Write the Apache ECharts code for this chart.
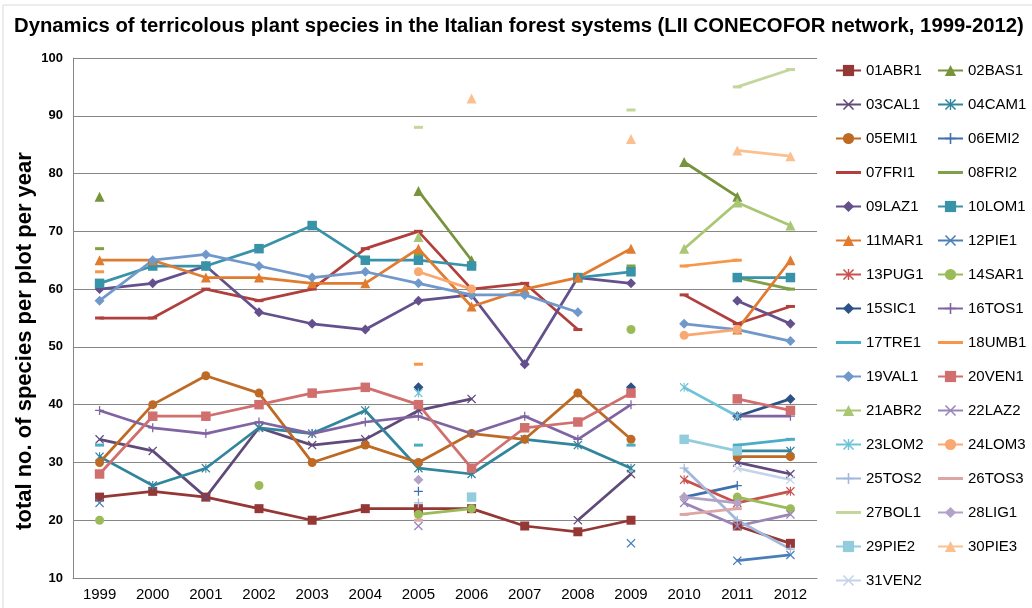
<!DOCTYPE html>
<html>
<head>
<meta charset="utf-8">
<script src="https://cdn.jsdelivr.net/npm/echarts@6/dist/echarts.min.js"></script>
<style>
html,body{margin:0;padding:0;background:#fff;}
#chart{width:1032px;height:608px;}
</style>
</head>
<body>
<div id="chart"></div>
<script>
// ---------- DATA ----------
const years = ['1999','2000','2001','2002','2003','2004','2005','2006','2007','2008','2009','2010','2011','2012'];
const yTicks = [10,20,30,40,50,60,70,80,90,100];
const _ = null;
const s01ABR1 = [24,25,24,22,20,22,22,22,19,18,20,_,19,16];
const s02BAS1 = [76,_,_,_,_,_,77,65,_,_,_,82,76,_];
const s03CAL1 = [34,32,24,36,33,34,39,41,_,20,28,_,30,28];
const s04CAM1 = [31,26,29,36,35,39,29,28,34,33,29,_,32,32];
const s05EMI1 = [30,40,45,42,30,33,30,35,34,42,34,_,31,31];
const s06EMI2 = [_,_,_,_,_,_,25,_,_,_,_,24,26,_];
const s07FRI1 = [55,55,60,58,60,67,70,60,61,53,_,59,54,57];
const s08FRI2 = [67,_,_,_,_,_,66,_,_,_,64,_,62,60];
const s09LAZ1 = [60,61,64,56,54,53,58,59,47,62,61,_,58,54];
const s10LOM1 = [61,64,64,67,71,65,65,64,_,62,63,_,62,62];
const s11MAR1 = [65,65,62,62,61,61,67,57,60,62,67,_,53,65];
const s12PIE1 = [23,_,_,_,_,_,_,_,_,_,16,_,13,14];
const s13PUG1 = [_,_,_,_,_,_,_,_,_,_,_,27,23,25];
const s14SAR1 = [20,_,_,26,_,_,21,22,_,_,53,_,24,22];
const s15SIC1 = [_,_,_,_,_,_,43,_,_,_,43,_,38,41];
const s16TOS1 = [39,36,35,37,35,37,38,35,38,34,40,_,38,38];
const s17TRE1 = [33,_,_,_,_,_,33,_,_,_,33,_,33,34];
const s18UMB1 = [63,_,_,_,_,_,47,_,_,_,_,64,65,_];
const s19VAL1 = [58,65,66,64,62,63,61,59,59,56,_,54,53,51];
const s20VEN1 = [28,38,38,40,42,43,40,29,36,37,42,_,41,39];
const s21ABR2 = [_,_,_,_,_,_,69,_,_,_,_,67,75,71];
const s22LAZ2 = [_,_,_,_,_,_,19,_,_,_,_,23,19,21];
const s23LOM2 = [_,_,_,_,_,_,42,_,_,_,_,43,38,_];
const s24LOM3 = [_,_,_,_,_,_,63,60,_,_,_,52,53,_];
const s25TOS2 = [_,_,_,_,_,_,23,_,_,_,_,29,20,15];
const s26TOS3 = [_,_,_,_,_,_,20,_,_,_,_,21,22,_];
const s27BOL1 = [_,_,_,_,_,_,88,_,_,_,91,_,95,98];
const s28LIG1 = [_,_,_,_,_,_,27,_,_,_,_,24,23,_];
const s29PIE2 = [_,_,_,_,_,_,_,24,_,_,_,34,32,_];
const s30PIE3 = [_,_,_,_,_,_,_,93,_,_,86,_,84,83];
const s31VEN2 = [_,_,_,_,_,_,_,_,_,_,_,_,29,27];

// ---------- STYLE ----------
const SQ = 'rect', TRI = 'triangle', CIR = 'circle', DIA = 'diamond';
const X = 'path://M0,1L1,0L5,4L9,0L10,1L6,5L10,9L9,10L5,6L1,10L0,9L4,5Z';
const PLUS = 'path://M4.3,0H5.7V4.3H10V5.7H5.7V10H4.3V5.7H0V4.3H4.3Z';
const AST = 'path://M0,1L1,0L5,4L9,0L10,1L6,5L10,9L9,10L5,6L1,10L0,9L4,5Z M4.4,0H5.6V10H4.4Z';
const DASH = 'dash';
const LINE_ICON = 'path://M0,0H0.01V14H0Z M0,5.5H25V8.5H0Z';

const spec = [
  ['01ABR1', s01ABR1, '#953735', SQ, 9],
  ['02BAS1', s02BAS1, '#77933C', TRI, 10],
  ['03CAL1', s03CAL1, '#604A7B', X, 9],
  ['04CAM1', s04CAM1, '#31859C', AST, 9],
  ['05EMI1', s05EMI1, '#BF6A24', CIR, 9],
  ['06EMI2', s06EMI2, '#3F6FAE', PLUS, 9],
  ['07FRI1', s07FRI1, '#B0403D', DASH, [9,3]],
  ['08FRI2', s08FRI2, '#7FA145', DASH, [9,3]],
  ['09LAZ1', s09LAZ1, '#64508C', DIA, 10],
  ['10LOM1', s10LOM1, '#3893A8', SQ, 9.5],
  ['11MAR1', s11MAR1, '#E07B30', TRI, 10],
  ['12PIE1', s12PIE1, '#4A7EBB', X, 9],
  ['13PUG1', s13PUG1, '#C8504D', AST, 9],
  ['14SAR1', s14SAR1, '#9BBB59', CIR, 9],
  ['15SIC1', s15SIC1, '#2E5286', DIA, 10],
  ['16TOS1', s16TOS1, '#8064A2', PLUS, 9],
  ['17TRE1', s17TRE1, '#4BACC6', DASH, [9,3]],
  ['18UMB1', s18UMB1, '#F79646', DASH, [9,3]],
  ['19VAL1', s19VAL1, '#7098CA', DIA, 10],
  ['20VEN1', s20VEN1, '#D06F6D', SQ, 9.5],
  ['21ABR2', s21ABR2, '#A9C672', TRI, 10],
  ['22LAZ2', s22LAZ2, '#9A84B8', X, 9],
  ['23LOM2', s23LOM2, '#6FC3D8', AST, 9],
  ['24LOM3', s24LOM3, '#F9A870', CIR, 9],
  ['25TOS2', s25TOS2, '#A1B8DB', PLUS, 9],
  ['26TOS3', s26TOS3, '#DBA6A5', DASH, [9,3]],
  ['27BOL1', s27BOL1, '#C3D69B', DASH, [9,3]],
  ['28LIG1', s28LIG1, '#B3A2C7', DIA, 10],
  ['29PIE2', s29PIE2, '#93CDDD', SQ, 9.5],
  ['30PIE3', s30PIE3, '#FAC090', TRI, 10],
  ['31VEN2', s31VEN2, '#C5D3E8', X, 9]
];

const FONT = "'Liberation Sans', Arial, sans-serif";

const series = spec.map(([name, data, color, symbol, size]) => ({
  name, type: 'line', data,
  symbol: symbol === DASH ? 'rect' : symbol, symbolSize: size,
  showSymbol: true, showAllSymbol: true,
  connectNulls: false,
  lineStyle: { color, width: 2.75 },
  itemStyle: { color, borderWidth: 0 },
  emphasis: { disabled: true },
  z: 3
}));

const legendItems = spec.map(s => (s[3] === DASH ? { name: s[0], icon: LINE_ICON } : { name: s[0] }));
const legendBase = {
  orient: 'vertical', top: 63, height: 560, itemGap: 19, itemHeight: 14, itemWidth: 25,
  padding: 0,
  textStyle: { fontSize: 15, lineHeight: 14, color: '#000', fontFamily: FONT },
  selectedMode: false
};

const chart = echarts.init(document.getElementById('chart'), null, { renderer: 'canvas' });
chart.setOption({
  animation: false,
  backgroundColor: '#fff',
  title: {
    text: 'Dynamics of terricolous plant species in the Italian forest systems (LII CONECOFOR network, 1999-2012)',
    left: 14, top: 16, padding: 0,
    textStyle: { fontSize: 20.3, fontWeight: 'bold', color: '#000', fontFamily: FONT }
  },
  graphic: [
    { type: 'rect', shape: { x: 3, y: 5, width: 1100, height: 700 }, style: { fill: 'none', stroke: '#D9D9D9', lineWidth: 1 }, silent: true },
    { type: 'text', x: 25, y: 341, rotation: Math.PI / 2,
      style: { text: 'total no. of species per plot per year', fontSize: 22, fontWeight: 'bold', fill: '#000', fontFamily: FONT, align: 'center', verticalAlign: 'middle' } }
  ],
  legend: [
    Object.assign({}, legendBase, { left: 835, data: legendItems.filter((n, i) => i % 2 === 0) }),
    Object.assign({}, legendBase, { left: 937, data: legendItems.filter((n, i) => i % 2 === 1) })
  ],
  grid: { left: 73, right: 215, top: 58, bottom: 30, containLabel: false },
  xAxis: {
    type: 'category', data: years, boundaryGap: true,
    axisLine: { lineStyle: { color: '#868686', width: 1 } },
    axisTick: { show: false },
    axisLabel: { fontSize: 15, color: '#000', margin: 9, fontFamily: FONT },
    splitLine: { show: false }
  },
  yAxis: {
    type: 'value', min: 10, max: 100, interval: 10,
    axisLine: { show: true, lineStyle: { color: '#868686', width: 1 } },
    axisTick: { show: false },
    axisLabel: { fontSize: 13, fontWeight: 'bold', color: '#000', margin: 10, fontFamily: FONT,
      formatter: v => (yTicks.indexOf(v) >= 0 ? String(v) : '') },
    splitLine: { lineStyle: { color: '#868686', width: 1 } }
  },
  series
});
</script>
</body>
</html>
